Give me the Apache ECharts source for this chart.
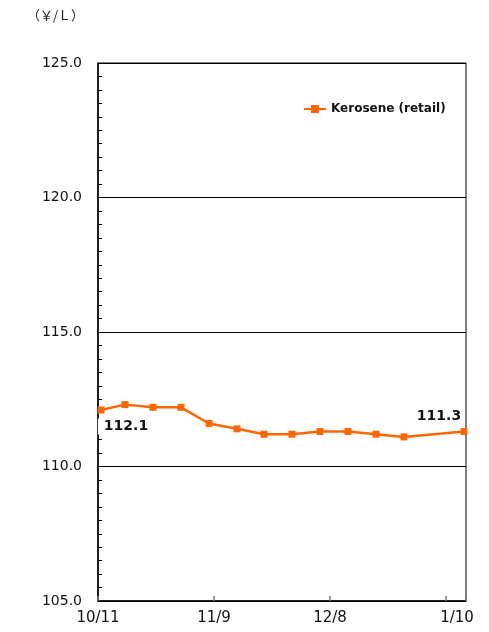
<!DOCTYPE html>
<html>
<head>
<meta charset="utf-8">
<script src="https://cdn.jsdelivr.net/npm/echarts@6/dist/echarts.min.js"></script>
<style>html,body{margin:0;padding:0;background:#fff;}#c{width:489px;height:632px;}</style>
</head>
<body>
<div id="c"></div>
<script>
// days after 10/11 (survey dates, estimated)
var dayOffsets = [0.75, 6.75, 13.75, 20.75, 27.75, 34.75, 41.5, 48.5, 55.5, 62.5, 69.5, 76.5, 91.5];
var keroseneValues = [112.1, 112.3, 112.2, 112.2, 111.6, 111.4, 111.2, 111.2, 111.3, 111.3, 111.2, 111.1, 111.3];
var xTickLabels = {0: '10/11', 29: '11/9', 58: '12/8', 87: '1/10'};
var seriesName = 'Kerosene (retail)';
var unitLabel = '（￥/Ｌ）';

var data = dayOffsets.map(function (d, i) {
  var item = { value: [d, keroseneValues[i]] };
  if (i === 0) {
    item.label = { show: true, position: 'bottom', offset: [23, 0], backgroundColor: '#ffffff', padding: [1, 2, 1, 6] };
  } else if (i === dayOffsets.length - 1) {
    item.label = { show: true, position: 'top', offset: [-25, 0] };
  }
  return item;
});

var chart = echarts.init(document.getElementById('c'));
chart.setOption({
  animation: false,
  backgroundColor: '#ffffff',
  textStyle: { fontFamily: 'DejaVu Sans' },
  grid: { left: 98, right: 23, top: 63, bottom: 31, show: true, borderColor: '#000', borderWidth: 1, containLabel: false },
  graphic: [{
    type: 'text', left: 27, top: 9,
    style: { text: unitLabel, font: '13px "Noto Sans CJK JP"', fill: '#222' }
  }],
  legend: {
    show: true, left: 298, top: 98, itemWidth: 22, itemHeight: 10, itemGap: 7,
    textStyle: { fontFamily: 'DejaVu Sans', fontWeight: 'bold', fontSize: 12, color: '#111' },
    data: [seriesName]
  },
  xAxis: {
    type: 'value', min: 0, max: 92, interval: 29,
    axisLine: { show: true, lineStyle: { color: '#000', width: 1.5 } },
    axisTick: { show: true, inside: true, length: 5, lineStyle: { color: '#777', width: 1.5 } },
    splitLine: { show: false },
    axisLabel: {
      margin: 10, fontSize: 15, color: '#111', fontFamily: 'DejaVu Sans',
      formatter: function (v) {
        var t = xTickLabels[v];
        if (!t) return '';
        if (v === 87) return '{l|' + t + '}';
        return t;
      },
      rich: { l: { fontSize: 15, color: '#111', fontFamily: 'DejaVu Sans', padding: [0, 0, 6, 22] } }
    }
  },
  yAxis: {
    type: 'value', min: 105, max: 125, interval: 5,
    axisLine: { show: true, lineStyle: { color: '#000', width: 1.5 } },
    axisTick: { show: true, inside: true, length: 4, lineStyle: { color: '#000' } },
    minorTick: { show: true, splitNumber: 10, length: 4, lineStyle: { color: '#000' } },
    splitLine: { show: true, lineStyle: { color: '#000', width: 1 } },
    axisLabel: {
      margin: 16, fontSize: 14, color: '#111', fontFamily: 'DejaVu Sans',
      formatter: function (v) { return v.toFixed(1); }
    }
  },
  series: [{
    name: seriesName,
    type: 'line',
    data: data,
    symbol: 'rect', symbolSize: 7,
    lineStyle: { color: '#FF6600', width: 2.5 },
    itemStyle: { color: '#FF6600' },
    label: { show: false, fontFamily: 'DejaVu Sans', fontWeight: 'bold', fontSize: 14, color: '#111',
      formatter: function (p) { return p.value[1].toFixed(1); } }
  }]
});
</script>
</body>
</html>
